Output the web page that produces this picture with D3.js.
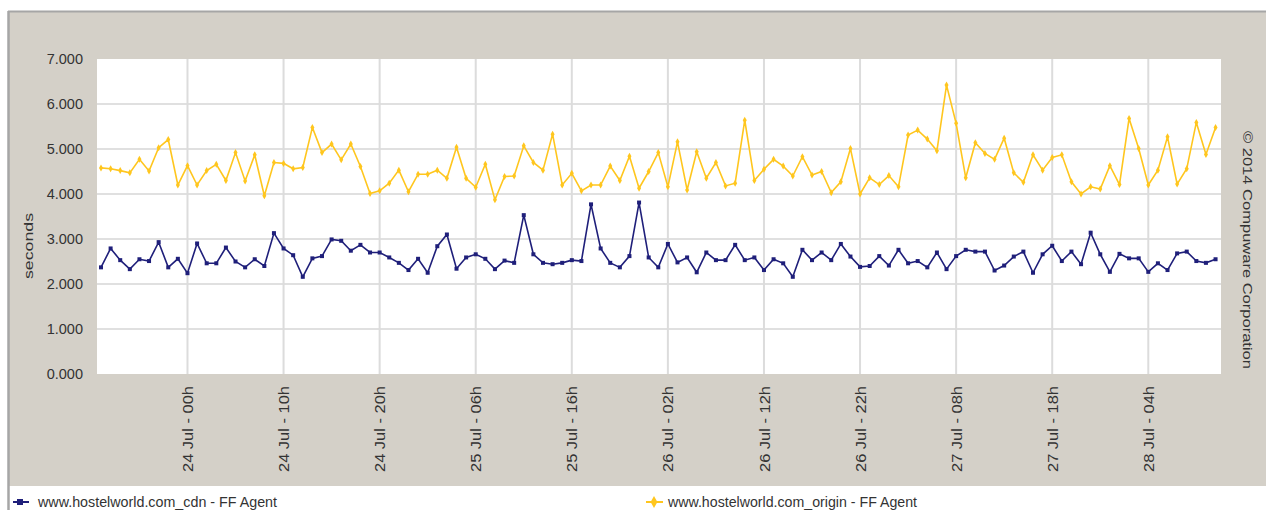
<!DOCTYPE html>
<html>
<head>
<meta charset="utf-8">
<script src="https://cdn.jsdelivr.net/npm/d3@7"></script>
<style>
  html, body { margin: 0; padding: 0; background: #ffffff; }
  svg { display: block; font-family: "Liberation Sans", Arial, sans-serif; }
</style>
</head>
<body>
<svg id="chart" width="1266" height="510"></svg>
<script>
// ---- data (hourly samples, 23 Jul 2014 15h -> 28 Jul 2014 11h) ----
const startTime = "2014-07-23T15:00";
const seriesNames = ["www.hostelworld.com_cdn - FF Agent", "www.hostelworld.com_origin - FF Agent"];
const cdnValues = [
  2.37,2.79,2.53,2.33,2.55,2.51,2.93,2.37,2.56,2.24,
  2.90,2.46,2.46,2.81,2.50,2.37,2.55,2.40,3.13,2.79,
  2.64,2.16,2.57,2.62,2.99,2.96,2.74,2.87,2.70,2.70,
  2.59,2.47,2.31,2.56,2.25,2.84,3.10,2.34,2.59,2.66,
  2.56,2.33,2.52,2.47,3.53,2.66,2.47,2.44,2.47,2.53,
  2.51,3.77,2.79,2.47,2.37,2.62,3.81,2.59,2.37,2.89,
  2.48,2.59,2.26,2.70,2.53,2.53,2.87,2.53,2.59,2.31,
  2.55,2.46,2.16,2.76,2.53,2.70,2.53,2.89,2.61,2.38,
  2.40,2.62,2.41,2.76,2.46,2.51,2.37,2.70,2.33,2.62,
  2.76,2.72,2.72,2.30,2.41,2.61,2.72,2.25,2.66,2.85,
  2.51,2.72,2.44,3.14,2.66,2.27,2.67,2.57,2.57,2.27,
  2.46,2.31,2.68,2.72,2.51,2.47,2.55
];
const originValues = [
  4.58,4.56,4.52,4.47,4.77,4.51,5.03,5.21,4.20,4.63,
  4.20,4.52,4.66,4.30,4.92,4.29,4.87,3.96,4.70,4.68,
  4.56,4.59,5.48,4.92,5.11,4.76,5.11,4.61,4.01,4.07,
  4.24,4.53,4.05,4.44,4.44,4.53,4.35,5.04,4.35,4.15,
  4.66,3.87,4.39,4.40,5.07,4.70,4.53,5.33,4.20,4.46,
  4.07,4.20,4.20,4.62,4.30,4.84,4.13,4.50,4.92,4.16,
  5.16,4.09,4.94,4.35,4.70,4.18,4.24,5.64,4.30,4.55,
  4.77,4.62,4.40,4.83,4.42,4.50,4.03,4.27,5.01,4.00,
  4.36,4.21,4.41,4.16,5.31,5.42,5.22,4.96,6.42,5.57,
  4.36,5.14,4.90,4.77,5.24,4.47,4.26,4.87,4.53,4.81,
  4.87,4.27,4.00,4.16,4.11,4.63,4.21,5.68,5.01,4.20,
  4.53,5.27,4.22,4.56,5.59,4.88,5.48
];
const yTicks = [0,1,2,3,4,5,6,7];
const xTickTimes = ["2014-07-24T00:00","2014-07-24T10:00","2014-07-24T20:00","2014-07-25T06:00",
  "2014-07-25T16:00","2014-07-26T02:00","2014-07-26T12:00","2014-07-26T22:00",
  "2014-07-27T08:00","2014-07-27T18:00","2014-07-28T04:00"];
const xTickLabels = ["24 Jul - 00h","24 Jul - 10h","24 Jul - 20h","25 Jul - 06h","25 Jul - 16h",
  "26 Jul - 02h","26 Jul - 12h","26 Jul - 22h","27 Jul - 08h","27 Jul - 18h","28 Jul - 04h"];
const yLabel = "seconds";
const copyright = "\u00A9 2014 Compuware Corporation";

// ---- layout ----
const svg = d3.select("#chart");
const W = 1266, H = 510;
const plot = {left: 97, right: 1221, top: 59, bottom: 374};
const t0 = new Date(startTime);
const times = cdnValues.map((_, i) => d3.timeHour.offset(t0, i));

const x = d3.scaleTime()
  .domain([d3.timeMinute.offset(times[0], -25), d3.timeMinute.offset(times[times.length - 1], 34)])
  .range([plot.left, plot.right]);
const y = d3.scaleLinear().domain([0, 7]).range([plot.bottom, plot.top]);

// panel background
svg.append("rect").attr("x", 8).attr("y", 11).attr("width", W - 8).attr("height", 475)
  .attr("fill", "#d4d0c8");
svg.append("line").attr("x1", 8).attr("x2", W).attr("y1", 11.5).attr("y2", 11.5)
  .attr("stroke", "#a6a6a6").attr("stroke-width", 2);
svg.append("line").attr("x1", 8.5).attr("x2", 8.5).attr("y1", 11).attr("y2", H)
  .attr("stroke", "#a6a6a6").attr("stroke-width", 2.5);

// plot area
svg.append("rect").attr("x", plot.left).attr("y", plot.top)
  .attr("width", plot.right - plot.left).attr("height", plot.bottom - plot.top).attr("fill", "#ffffff");

const tickDates = xTickTimes.map(s => new Date(s));

// grid
const grid = svg.append("g");
grid.selectAll("line.h").data(yTicks.slice(1, -1)).join("line")
  .attr("x1", plot.left).attr("x2", plot.right)
  .attr("y1", d => y(d)).attr("y2", d => y(d))
  .attr("stroke", "#e0e0e0").attr("stroke-width", 2);
grid.selectAll("line.v").data(tickDates).join("line")
  .attr("x1", d => x(d)).attr("x2", d => x(d))
  .attr("y1", plot.top).attr("y2", plot.bottom)
  .attr("stroke", "#dcdcdc").attr("stroke-width", 2);

// y axis
const yAxis = d3.axisLeft(y).tickValues(yTicks).tickSize(0).tickPadding(14)
  .tickFormat(d3.format(".3f"));
const gy = svg.append("g").attr("transform", `translate(${plot.left},0)`).call(yAxis);
gy.select(".domain").remove();
gy.selectAll("text").attr("font-size", 14.5).attr("fill", "#333333")
  .attr("font-family", "Liberation Sans, Arial, sans-serif");

// x axis
const xAxis = d3.axisBottom(x).tickValues(tickDates).tickSize(0)
  .tickFormat((d, i) => xTickLabels[i]);
const gx = svg.append("g").attr("transform", `translate(0,${plot.bottom})`).call(xAxis);
gx.select(".domain").remove();
gx.selectAll("text")
  .attr("font-size", 14).attr("fill", "#333333")
  .attr("font-family", "Liberation Sans, Arial, sans-serif")
  .attr("text-anchor", "end")
  .attr("transform", "rotate(-90)")
  .attr("x", -12).attr("y", 0).attr("dy", "0.36em")
  .attr("textLength", 86).attr("lengthAdjust", "spacingAndGlyphs");

// axis title
svg.append("text").attr("transform", "translate(33,246) rotate(-90)")
  .attr("text-anchor", "middle").attr("font-size", 12).attr("fill", "#333333")
  .attr("textLength", 66).attr("lengthAdjust", "spacingAndGlyphs")
  .text(yLabel);

// copyright
svg.append("text").attr("transform", "translate(1243,250) rotate(90)")
  .attr("text-anchor", "middle").attr("font-size", 13).attr("fill", "#333333")
  .attr("textLength", 238).attr("lengthAdjust", "spacingAndGlyphs")
  .text(copyright);

// series
const blue = "#1f1f7a", gold = "#ffc61e";
const line = d3.line().x((d, i) => x(times[i])).y(d => y(d));

svg.append("path").datum(originValues).attr("d", line)
  .attr("fill", "none").attr("stroke", gold).attr("stroke-width", 1.6);
svg.append("g").selectAll("path").data(originValues).join("path")
  .attr("d", d3.symbol(d3.symbolDiamond, 14))
  .attr("transform", (d, i) => `translate(${x(times[i])},${y(d)})`)
  .attr("fill", gold);

svg.append("path").datum(cdnValues).attr("d", line)
  .attr("fill", "none").attr("stroke", blue).attr("stroke-width", 1.6);
svg.append("g").selectAll("rect").data(cdnValues).join("rect")
  .attr("x", (d, i) => x(times[i]) - 2).attr("y", d => y(d) - 2)
  .attr("width", 4).attr("height", 4).attr("fill", blue);

// legend
const legend = svg.append("g");
legend.append("line").attr("x1", 13).attr("x2", 29).attr("y1", 502).attr("y2", 502)
  .attr("stroke", blue).attr("stroke-width", 2);
legend.append("rect").attr("x", 17).attr("y", 499).attr("width", 6).attr("height", 6).attr("fill", blue);
legend.append("text").attr("x", 38).attr("y", 507).attr("font-size", 14).attr("fill", "#333333")
  .attr("textLength", 239).attr("lengthAdjust", "spacingAndGlyphs")
  .text(seriesNames[0]);

legend.append("line").attr("x1", 646).attr("x2", 663).attr("y1", 502).attr("y2", 502)
  .attr("stroke", gold).attr("stroke-width", 2);
legend.append("path").attr("d", d3.symbol(d3.symbolDiamond, 40))
  .attr("transform", "translate(654,502)").attr("fill", gold);
legend.append("text").attr("x", 668).attr("y", 507).attr("font-size", 14).attr("fill", "#333333")
  .attr("textLength", 249).attr("lengthAdjust", "spacingAndGlyphs")
  .text(seriesNames[1]);
</script>
</body>
</html>
